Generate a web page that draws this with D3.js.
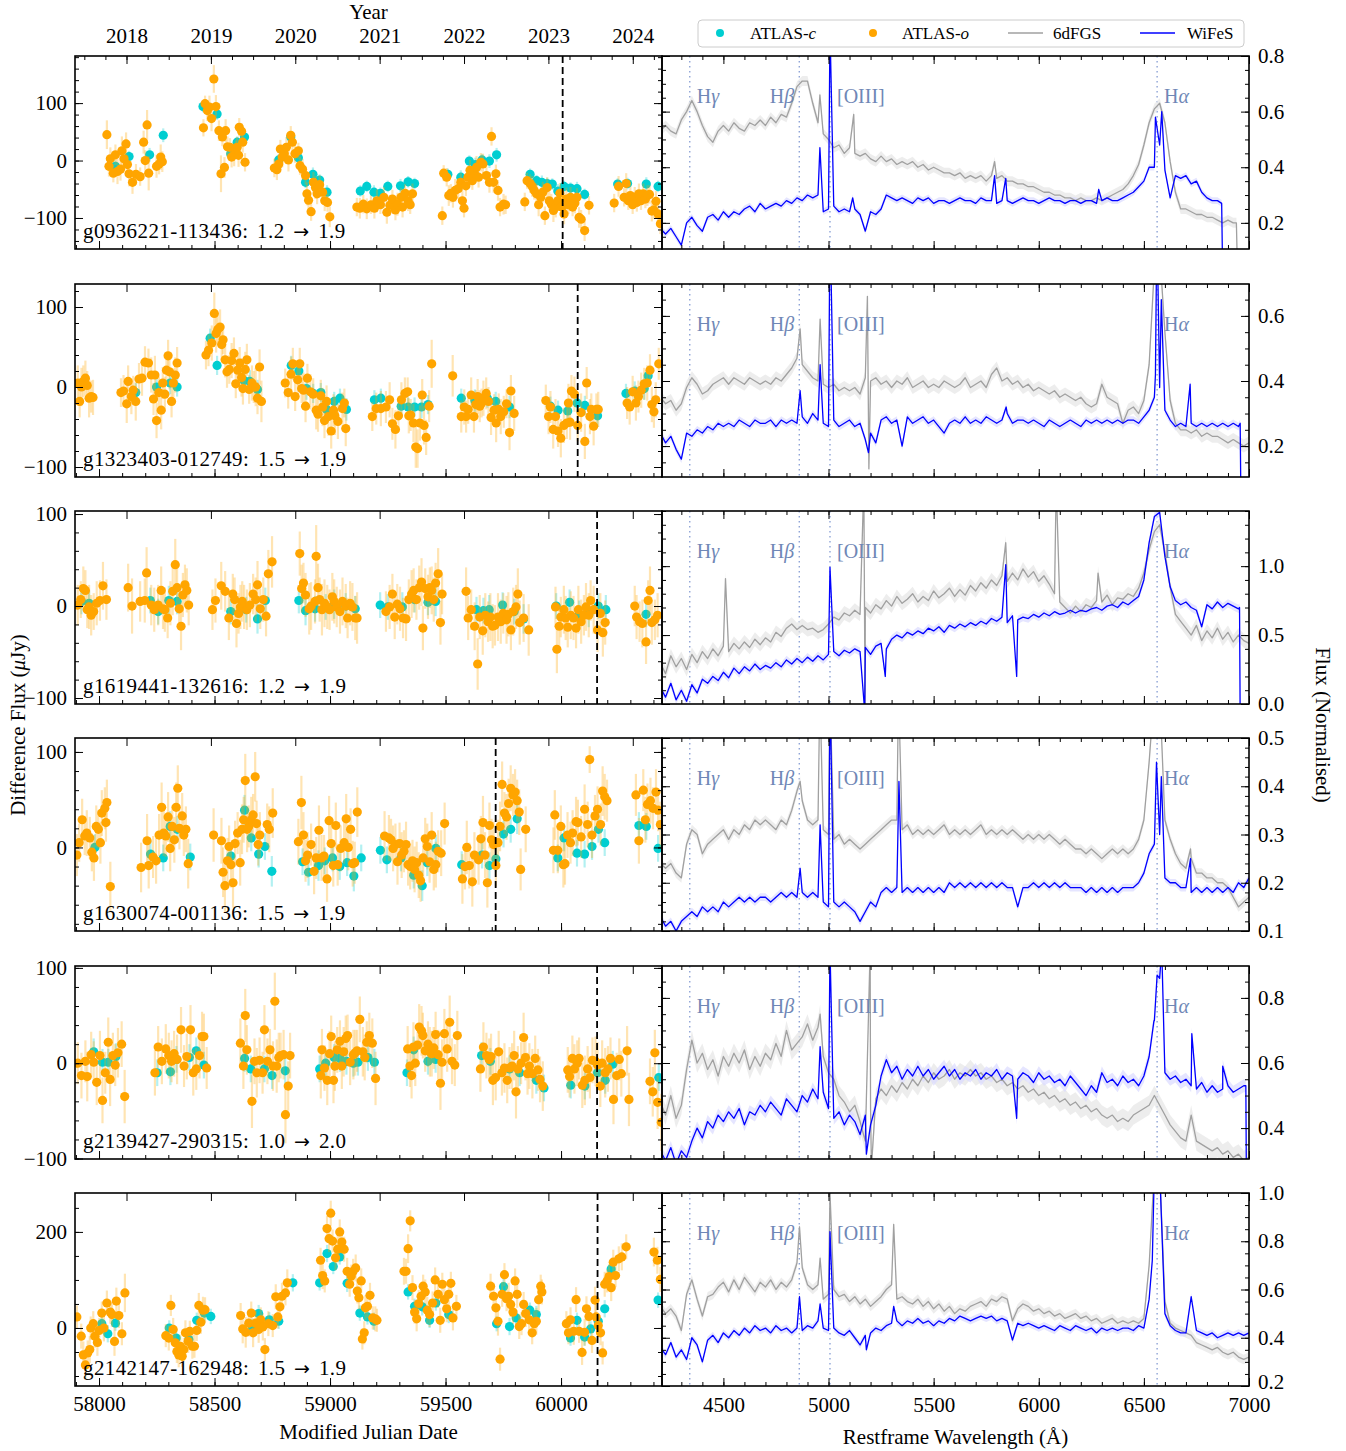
<!DOCTYPE html>
<html>
<head>
<meta charset="utf-8">
<script src="https://cdn.jsdelivr.net/npm/d3@7"></script>
<style>
  body { margin: 0; background: #fff; }
</style>
</head>
<body>
<svg id="chart" width="1346" height="1451"></svg>
<script>
// ---- object names and classification change ----
const objectNames = ['g0936221-113436', 'g1323403-012749', 'g1619441-132616', 'g1630074-001136', 'g2139427-290315', 'g2142147-162948'];
const typeFrom = ['1.2', '1.5', '1.2', '1.5', '1.0', '1.5'];
const typeTo = ['1.9', '1.9', '1.9', '1.9', '2.0', '1.9'];
const spectrumMJD = [60007, 60072, 60156, 59717, 60156, 60158];

// axis limits / tick steps
const fluxLimits = [[-154, 182], [-112.5, 128.75], [-106.5, 103.3], [-87.5, 114.6], [-100.5, 102], [-120.8, 281]];
const fluxMajor = [100, 100, 100, 100, 100, 200];
const fluxMinor = [20, 20, 20, 20, 20, 50];
const normLimits = [[0.106, 0.8], [0.105, 0.698], [0, 1.4], [0.1, 0.5], [0.305, 0.898], [0.2, 1.0]];
const normMajor = [0.2, 0.2, 0.5, 0.1, 0.2, 0.2];
const normMinor = [0.05, 0.05, 0.1, 0.02, 0.05, 0.05];
const yearLabels = [2018, 2019, 2020, 2021, 2022, 2023, 2024];
const emLines = [4340, 4861, 5007, 6563];
const emLabels = [['H', 'γ'], ['H', 'β'], ['[OIII]', ''], ['H', 'α']];

// ---- ATLAS light curves: [MJD, flux (uJy), error] ----
const lcO1 = [[58034,45,25],[58043,-10,18],[58049,3,20],[58062,-22,16],[58071,10,18],[58080,-19,22],[58093,-15,20],[58099,17,25],[58108,3,18],[58117,29,20],[58123,-7,16],[58130,-23,22],[58145,-38,20],[58160,-24,18],[58178,-28,16],[58193,32,20],[58200,0,18],[58208,62,26],[58215,-22,30],[58249,-10,20],[58260,-6,18],[58267,6,22],[58274,-2,18],
[58452,57,15],[58459,99,14],[58469,87,18],[58478,93,20],[58487,73,22],[58497,142,24],[58506,94,20],[58519,52,18],[58528,-23,32],[58534,41,16],[58543,-12,18],[58548,52,20],[58556,24,18],[58567,23,16],[58574,6,18],[58585,10,20],[58593,19,16],[58598,23,18],[58604,9,20],[58607,58,16],[58617,51,14],[58622,32,18],[58632,-3,16],
[58759,-13,16],[58770,-16,18],[58778,-6,14],[58785,20,16],[58793,6,18],[58802,12,16],[58811,23,18],[58820,1,20],[58830,44,16],[58837,32,18],[58848,12,16],[58863,17,14],[58870,-9,16],[58881,-15,18],[58894,-26,16],[58900,-58,20],[58907,-69,18],[58918,-89,16],[58928,-38,18],[58937,-47,20],[58944,-58,18],[58955,-42,16],[58968,-55,20],[58977,-70,18],[58989,-73,16],[58999,-98,18],
[59116,-81,16],[59129,-83,18],[59144,-76,16],[59159,-84,18],[59177,-77,16],[59192,-83,18],[59203,-70,20],[59218,-77,16],[59233,-64,18],[59246,-90,20],[59259,-78,18],[59270,-67,16],[59283,-86,18],[59292,-76,20],[59307,-64,16],[59314,-81,18],[59325,-57,16],[59338,-70,18],[59347,-77,16],[59357,-58,18],
[59486,-96,16],[59492,-22,14],[59505,-29,16],[59514,-61,18],[59523,-57,16],[59532,-64,18],[59542,-52,20],[59555,-49,18],[59566,-38,16],[59573,-70,18],[59580,-83,16],[59588,-44,18],[59597,-29,20],[59606,-17,18],[59616,-35,16],[59625,-22,18],[59634,-12,20],[59643,-29,18],[59653,-3,16],[59662,-6,18],[59677,-26,16],[59690,-38,18],[59699,42,16],[59708,-38,18],[59718,-23,16],[59727,-52,18],[59736,-81,16],[59751,-76,18],[59760,-77,16],
[59843,-72,16],[59853,-35,14],[59866,-40,16],[59875,-45,18],[59884,-52,16],[59894,-58,18],[59903,-77,20],[59912,-64,16],[59921,-55,18],[59930,-96,16],[59940,-47,18],[59949,-70,16],[59958,-76,18],[59967,-87,20],[59977,-81,18],[59986,-70,16],[59995,-57,18],[60004,-81,16],[60013,-93,18],[60023,-67,20],[60032,-77,16],[60041,-64,18],[60050,-81,16],[60060,-74,18],[60069,-64,16],[60078,-99,18],[60087,-102,16],[60102,-122,18],[60121,-78,16],
[60230,-74,16],[60249,-45,18],[60273,-64,16],[60282,-40,18],[60291,-70,16],[60300,-61,18],[60310,-77,16],[60319,-64,18],[60328,-73,16],[60337,-58,18],[60346,-70,16],[60356,-58,18],[60365,-67,16],[60374,-61,18],[60383,-59,16],[60393,-88,18],[60402,-86,16],[60411,-71,18],[60420,-93,16],[60430,-110,18]];
const lcC1 = [[58071,-10,10],[58130,7,10],[58219,10,12],[58278,44,12],[58450,94,10],[58511,81,10],[58570,12,12],[58598,32,10],[58630,41,12],[58778,1,10],[58830,41,10],[58863,5,12],[58894,-38,10],[58926,-24,12],[58955,-34,10],[58987,-55,12],[59131,-53,10],[59159,-45,10],[59190,-55,12],[59218,-57,10],[59250,-45,10],[59305,-44,12],[59338,-37,10],[59366,-40,10],[59510,-24,10],[59566,-29,12],[59603,-1,10],[59629,-7,12],[59658,1,10],[59690,-1,12],[59721,10,12],[59866,-24,10],[59894,-35,10],[59917,-38,12],[59940,-40,10],[59962,-41,10],[59986,-53,12],[60013,-45,10],[60041,-48,10],[60069,-49,12],[60102,-59,10],[60245,-41,10],[60288,-40,10],[60369,-41,12],[60420,-45,10]];

const lcO2 = [[57908,5,22],[57916,-18,20],[57924,0,24],[57932,7,20],[57941,11,22],[57949,2,18],[57957,-14,24],[57966,-12,20],[57974,-13,22],
[58095,-7,18],[58106,-5,20],[58120,-21,24],[58126,7,20],[58140,-12,22],[58148,-4,18],[58159,-18,24],[58173,10,20],[58186,11,22],[58199,31,20],[58214,30,18],[58226,15,22],[58236,-15,20],[58242,15,24],[58249,-42,22],[58259,-7,20],[58269,-29,24],[58276,5,20],[58285,-9,22],[58292,21,18],[58299,39,20],[58305,19,22],[58314,-18,20],[58322,5,18],[58330,15,22],[58338,30,20],
[58463,40,18],[58474,46,20],[58488,55,22],[58499,92,26],[58507,67,24],[58514,72,20],[58524,75,22],[58531,53,20],[58537,59,18],[58546,34,22],[58554,19,20],[58564,22,18],[58574,33,22],[58584,42,20],[58592,4,18],[58600,21,22],[58609,30,20],[58617,12,24],[58623,-2,20],[58633,22,22],[58640,34,20],[58650,-3,18],[58662,5,22],[58670,0,20],[58678,0,24],[58686,-14,20],[58695,25,22],[58703,-18,26],
[58806,5,18],[58819,-7,20],[58831,16,22],[58839,29,20],[58849,-12,18],[58860,9,22],[58869,29,20],[58877,-2,18],[58885,-4,22],[58894,-24,20],[58902,11,18],[58915,-6,22],[58927,-9,20],[58940,-29,24],[58948,-34,22],[58960,-11,20],[58968,-25,24],[58976,-42,22],[58985,-18,20],[58993,-37,24],[59005,-55,22],[59015,-29,20],[59021,-36,24],[59034,-43,22],[59054,-27,20],[59062,-20,18],[59068,-52,22],
[59183,-37,18],[59200,-27,20],[59220,-27,22],[59242,-25,20],[59258,-16,22],[59270,-46,20],[59283,-53,24],[59296,-36,20],[59309,-16,22],[59324,-8,20],[59336,-6,18],[59341,-36,22],[59349,-35,20],[59361,-45,24],[59371,-75,26],[59379,-77,24],[59389,-45,22],[59399,-10,20],[59407,-48,24],[59416,-63,22],[59429,-24,20],[59440,29,30],
[59531,14,26],[59568,-37,20],[59581,-25,22],[59589,-37,20],[59598,-28,18],[59611,-10,22],[59623,-37,20],[59631,-22,18],[59639,-12,22],[59648,-24,20],[59656,-20,18],[59664,-14,22],[59676,-8,20],[59686,-18,18],[59697,-38,22],[59710,-29,20],[59719,-45,24],[59730,-28,20],[59739,-37,22],[59752,-31,20],[59764,-21,18],[59777,-57,22],[59783,-5,20],[59797,-33,22],
[59934,-17,20],[59946,-37,22],[59954,-25,20],[59966,-53,24],[59976,-37,22],[59987,-55,20],[59999,-64,24],[60012,-48,22],[60025,-45,20],[60032,-20,24],[60039,-44,22],[60045,-5,20],[60058,-9,22],[60072,-48,20],[60087,-32,24],[60103,-68,22],[60111,5,20],[60125,-37,22],[60131,-28,20],[60141,-49,24],[60153,-28,20],[60161,-28,22],
[60286,-20,20],[60297,-25,22],[60310,-6,20],[60324,-20,22],[60335,-12,20],[60347,-4,22],[60360,4,20],[60373,5,22],[60385,21,20],[60393,-22,22],[60402,-31,20],[60410,-16,22],[60423,29,20]];
const lcC2 = [[58159,-7,12],[58249,0,12],[58308,5,14],[58338,0,12],[58481,61,12],[58511,27,12],[58628,8,12],[58653,7,14],[58686,-3,12],[58832,27,12],[58865,20,12],[58898,-2,14],[58927,-8,12],[58960,-7,12],[58985,-28,14],[59018,-18,12],[59043,-14,12],[59071,-28,14],[59192,-16,12],[59220,-14,12],[59308,-24,14],[59338,-25,12],[59366,-25,12],[59396,-25,14],[59424,-22,12],[59568,-14,12],[59627,-17,14],[59681,-14,12],[59717,-18,12],[59777,-25,14],[59954,-24,12],[59987,-29,12],[60029,-30,14],[60070,-20,12],[60103,-23,12],[60158,-36,14],[60281,-8,12],[60319,-5,12],[60360,-2,14],[60377,14,12]];

const lcO3 = [[57908,1,22],[57921,7,20],[57932,19,24],[57941,17,22],[57949,-4,20],[57957,-1,24],[57966,-10,22],[57977,-6,20],[57990,3,24],[58004,6,22],[58017,22,26],[58032,7,22],
[58126,20,26],[58143,0,30],[58178,5,22],[58198,6,24],[58206,36,28],[58226,1,22],[58239,-4,24],[58256,1,22],[58269,17,26],[58277,-3,22],[58285,-4,24],[58297,-13,22],[58309,3,24],[58319,16,26],[58330,45,28],[58338,20,24],[58347,-3,22],[58355,-22,26],[58363,12,24],[58372,23,22],[58380,17,24],[58388,1,22],
[58491,-4,22],[58504,6,24],[58529,22,26],[58546,16,22],[58562,-13,24],[58579,13,22],[58587,7,24],[58595,-19,26],[58604,-8,22],[58612,-1,24],[58620,5,22],[58628,-1,24],[58640,-4,22],[58653,1,24],[58667,13,22],[58678,7,24],[58686,23,26],[58698,-3,22],[58711,7,24],[58723,-11,22],[58733,35,26],[58749,48,28],
[58869,57,24],[58877,19,26],[58885,25,22],[58894,12,24],[58910,-3,28],[58918,0,26],[58935,5,24],[58940,54,34],[58948,20,26],[58955,7,24],[58965,-4,28],[58976,3,26],[58988,-1,24],[58998,-4,22],[59010,10,26],[59018,5,24],[59029,-1,22],[59043,-6,24],[59054,5,26],[59068,0,24],[59076,-13,22],[59087,3,24],[59097,-1,26],[59109,-13,24],[59117,-13,28],
[59242,-6,22],[59258,-1,24],[59270,13,22],[59280,-12,24],[59291,2,22],[59303,-3,24],[59316,-13,22],[59329,-14,24],[59341,7,22],[59353,13,26],[59362,17,24],[59374,7,22],[59386,20,24],[59396,26,26],[59402,-24,24],[59412,19,22],[59424,10,24],[59432,20,22],[59440,17,26],[59449,7,24],[59457,25,22],[59468,35,28],[59478,-18,24],[59485,13,22],
[59589,16,26],[59598,-13,24],[59611,-4,22],[59626,-22,26],[59639,-63,28],[59648,-12,24],[59661,-27,26],[59672,-10,24],[59684,-17,22],[59694,-12,26],[59704,-22,24],[59714,-21,22],[59727,-12,26],[59739,-17,24],[59750,-8,22],[59764,-15,26],[59772,-9,24],[59783,-26,22],[59793,-6,26],[59805,-1,24],[59813,13,28],[59821,-18,24],[59838,-13,26],[59860,-26,28],
[59976,-1,22],[59982,-47,26],[59992,-22,24],[59999,-12,22],[60012,-4,26],[60020,-13,24],[60029,-23,22],[60042,-10,26],[60054,-13,24],[60065,-24,22],[60075,-4,26],[60087,-17,24],[60099,-10,22],[60108,-1,26],[60120,-10,24],[60128,6,22],[60141,-4,26],[60158,-26,24],[60170,-8,22],[60181,-29,26],[60191,-18,24],
[60319,0,22],[60327,-12,24],[60340,-17,22],[60352,-19,26],[60368,-39,24],[60377,6,22],[60385,17,26],[60393,-18,24],[60406,-15,22],[60418,-10,24]];
const lcC3 = [[57924,5,14],[57957,3,14],[58222,6,14],[58256,-6,14],[58302,6,16],[58338,5,14],[58570,-6,14],[58637,-4,14],[58686,-14,16],[58720,6,14],[58865,6,14],[58894,-5,16],[58935,-3,14],[58981,-1,14],[59018,2,16],[59068,0,14],[59109,-3,14],[59217,1,14],[59250,-1,14],[59313,-1,16],[59366,7,14],[59424,4,14],[59457,5,16],[59634,-4,14],[59664,-5,14],[59689,-4,16],[59747,1,14],[59797,-6,14],[59838,-14,16],[59979,0,14],[60037,4,14],[60078,-10,16],[60120,-9,14],[60161,0,14],[60194,-4,16],[60368,-9,14]];

const lcO4 = [[57904,-8,22],[57914,5,20],[57927,29,22],[57938,12,20],[57947,15,24],[57960,10,22],[57969,-5,20],[57978,-11,24],[57988,22,22],[57997,19,20],[58006,5,22],[58012,36,24],[58025,41,22],[58030,26,20],[58034,47,24],[58049,-41,26],
[58182,-21,26],[58208,7,28],[58215,-19,24],[58234,-10,22],[58247,-14,24],[58260,13,22],[58271,42,26],[58280,15,24],[58289,12,22],[58299,32,26],[58308,-1,24],[58317,22,22],[58326,8,24],[58334,42,26],[58341,62,24],[58348,20,22],[58360,33,24],[58367,13,22],[58376,19,24],[58386,-17,26],
[58496,13,28],[58530,7,24],[58537,-26,26],[58545,-40,28],[58556,-14,24],[58563,1,22],[58571,-18,24],[58580,-37,26],[58589,4,24],[58600,15,22],[58611,-16,24],[58619,19,26],[58626,29,24],[58633,70,28],[58641,19,24],[58648,22,22],[58659,29,24],[58667,34,22],[58676,74,26],[58682,25,24],[58689,3,22],[58696,13,24],[58728,24,22],[58737,19,24],[58752,36,26],
[58863,6,24],[58876,47,28],[58885,13,24],[58894,-14,22],[58903,-8,24],[58918,3,22],[58931,-25,24],[58940,-11,22],[58952,18,26],[58963,-11,24],[58974,-9,22],[58987,-33,24],[58996,28,26],[59005,4,24],[59014,-19,22],[59025,23,24],[59033,-18,22],[59046,-1,24],[59061,5,22],[59070,30,26],[59079,0,24],[59089,19,22],[59098,-17,24],[59107,-16,22],[59118,37,26],
[59236,12,26],[59255,10,24],[59264,8,22],[59273,-1,24],[59283,3,22],[59292,-15,24],[59301,4,22],[59310,-8,24],[59320,-4,22],[59329,3,24],[59338,-18,22],[59347,-20,24],[59357,-14,22],[59366,-23,24],[59375,-16,22],[59384,-29,24],[59392,-35,22],[59403,-11,24],[59412,9,22],[59421,1,24],[59431,-15,22],[59440,13,24],[59449,-23,22],[59458,-18,24],[59468,-4,22],[59481,-6,24],[59496,25,22],
[59573,-33,26],[59584,-20,24],[59592,0,28],[59603,-19,24],[59616,-36,26],[59625,-8,24],[59643,-13,26],[59653,9,24],[59662,26,28],[59671,-8,24],[59681,-37,26],[59690,23,24],[59699,8,22],[59708,3,24],[59718,-19,22],[59727,5,24],[59736,22,26],[59745,66,24],[59755,36,22],[59764,32,24],[59773,46,26],[59782,62,24],[59792,55,22],[59801,58,24],[59810,49,22],[59819,37,24],[59825,-23,22],[59847,19,24],
[59967,-3,24],[59973,34,26],[59986,-3,24],[59999,22,22],[60010,-18,24],[60017,-17,22],[60028,13,24],[60041,5,22],[60050,15,24],[60065,27,26],[60073,26,24],[60087,11,22],[60102,40,26],[60115,24,24],[60124,92,14],[60134,13,24],[60147,33,22],[60158,40,24],[60171,24,22],[60180,59,26],[60189,53,24],[60199,49,22],
[60324,55,22],[60337,7,24],[60356,60,22],[60365,29,24],[60374,45,22],[60387,49,24],[60398,41,22],[60411,58,24],[60420,39,22],[60430,24,24]];
const lcC4 = [[57982,0,14],[58223,-7,14],[58278,-11,14],[58308,22,16],[58339,19,14],[58395,-10,14],[58571,-9,14],[58630,39,16],[58659,10,14],[58691,-7,14],[58718,1,14],[58748,-25,16],[58881,-15,14],[58907,-26,14],[58950,-19,16],[58977,-14,14],[59011,-11,14],[59042,-20,14],[59074,-16,14],[59103,-30,16],[59135,-11,14],[59218,-3,14],[59246,-13,14],[59307,-11,14],[59362,-29,14],[59399,-40,16],[59421,-16,14],[59458,-1,14],[59570,-18,14],[59658,-8,14],[59690,-19,14],[59718,-12,14],[59751,14,14],[59782,19,14],[59810,30,16],[59986,-11,14],[60013,10,14],[60069,-6,14],[60102,-7,14],[60134,1,14],[60162,19,14],[60189,5,14],[60337,23,14],[60369,22,14],[60420,-1,14]];

const lcO5 = [[57908,0,22],[57924,-13,24],[57941,2,22],[57949,-14,26],[57966,9,24],[57977,1,22],[57990,-20,24],[58004,8,26],[58015,-39,24],[58027,-10,22],[58040,22,26],[58048,-17,28],[58060,8,24],[58070,-2,22],[58082,11,26],[58098,20,24],[58111,-35,28],
[58242,-10,24],[58256,17,22],[58272,2,24],[58289,15,26],[58302,8,24],[58314,2,22],[58325,10,24],[58338,4,26],[58355,35,24],[58368,-3,22],[58380,7,24],[58396,35,26],[58408,-10,24],[58421,-6,22],[58435,8,24],[58446,28,26],[58454,28,24],[58466,-5,22],
[58612,21,26],[58625,-3,24],[58633,50,28],[58640,14,26],[58662,-40,28],[58673,2,24],[58683,-10,26],[58695,3,24],[58708,-10,22],[58716,35,26],[58729,2,24],[58740,14,22],[58753,-3,26],[58761,65,30],[58769,-3,28],[58778,6,26],[58786,8,24],[58799,9,26],[58807,-54,30],[58819,-24,26],[58827,8,24],
[58960,-13,24],[58965,14,22],[58976,-5,24],[58988,-18,26],[58998,10,24],[59005,28,22],[59015,-18,24],[59021,-3,26],[59031,14,24],[59043,23,22],[59051,-3,24],[59059,12,26],[59068,26,24],[59076,29,22],[59087,1,24],[59101,9,26],[59109,11,24],[59117,13,22],[59129,46,24],[59142,12,26],[59150,6,24],[59159,22,22],[59170,29,24],[59183,21,26],[59197,-16,28],
[59336,15,24],[59346,-3,22],[59353,-13,24],[59361,17,26],[59369,0,24],[59379,19,22],[59386,38,24],[59396,34,26],[59402,29,24],[59412,13,22],[59424,20,24],[59432,12,26],[59440,10,24],[59449,16,22],[59457,30,24],[59468,9,26],[59478,-21,28],[59485,1,24],[59495,31,26],[59507,15,24],[59518,43,28],[59528,2,24],[59540,-2,22],[59551,29,26],
[59651,-6,24],[59664,17,26],[59677,8,24],[59689,4,22],[59697,7,24],[59705,-18,26],[59717,-15,24],[59730,12,22],[59744,-10,24],[59755,-5,26],[59767,-18,24],[59777,-5,22],[59788,-3,24],[59797,8,26],[59805,-30,28],[59813,-6,24],[59827,0,22],[59838,27,26],[59846,6,24],[59855,-11,22],[59863,-3,24],[59876,-11,26],[59888,5,24],[59900,-7,22],[59909,-17,24],[59921,-24,26],
[60029,-7,24],[60037,-14,22],[60049,5,24],[60058,-6,26],[60070,0,24],[60078,5,22],[60092,-23,24],[60103,-18,26],[60115,-6,24],[60125,-15,22],[60136,3,24],[60149,2,26],[60158,-2,24],[60170,-24,22],[60178,0,24],[60191,-10,26],[60203,-6,24],[60214,5,22],[60227,-38,26],[60241,-13,24],[60252,4,22],[60261,-11,24],[60286,13,26],[60294,-38,28],
[60385,-19,24],[60397,-30,26],[60406,11,24],[60418,-41,28],[60434,-62,30]];
const lcC5 = [[57977,12,14],[58015,1,14],[58040,1,14],[58073,7,14],[58252,-10,14],[58309,-9,14],[58335,4,14],[58391,6,14],[58421,13,14],[58454,-2,14],[58630,5,14],[58657,-6,14],[58716,-6,14],[58749,-13,14],[58806,-8,14],[58955,-6,14],[58981,0,14],[59018,6,14],[59043,5,14],[59071,2,14],[59101,0,14],[59121,1,14],[59164,6,14],[59192,1,14],[59333,-10,14],[59362,14,14],[59424,2,14],[59457,4,14],[59656,8,14],[59694,2,14],[59777,-6,14],[59821,-10,14],[59893,-18,14],[59926,-26,14],[60042,-23,14],[60103,-24,14],[60158,-10,14],[60191,-18,14],[60224,-1,14],[60423,-15,14]];

const lcO6 = [[57904,23,24],[57923,-17,26],[57932,-56,28],[57941,-77,30],[57951,-52,26],[57960,-45,28],[57964,0,24],[57975,9,26],[57982,-17,24],[57993,-30,28],[58001,-5,26],[58012,31,24],[58021,0,28],[58034,52,26],[58049,33,24],[58056,28,26],[58067,-28,30],[58075,56,28],[58086,26,26],[58099,-12,24],[58112,73,40],
[58289,-16,24],[58302,-21,26],[58311,47,22],[58321,-3,24],[58330,-31,26],[58337,-49,24],[58345,-56,26],[58352,-38,24],[58360,-59,22],[58367,-45,24],[58374,-10,26],[58386,-28,24],[58393,-7,22],[58404,-38,26],[58413,-38,24],[58423,-5,22],[58432,47,26],[58441,12,24],[58450,37,28],[58459,38,26],
[58613,26,26],[58622,-2,30],[58635,-9,32],[58648,10,28],[58659,31,24],[58667,-10,30],[58678,10,26],[58691,-3,28],[58700,17,26],[58709,2,28],[58718,-45,24],[58733,9,26],[58752,5,24],[58765,65,26],[58774,23,24],[58783,44,26],[58792,66,28],[58807,73,26],[58815,94,28],
[58959,141,26],[58968,109,28],[58977,98,24],[58987,207,26],[58996,186,28],[59003,239,26],[59011,181,24],[59024,146,26],[59033,164,28],[59042,200,26],[59051,179,24],[59061,164,26],[59074,118,28],[59085,91,26],[59092,108,24],[59100,118,26],[59111,125,28],[59118,77,26],[59125,63,24],[59135,98,26],[59140,-23,22],[59148,-10,24],[59153,42,26],[59162,45,24],[59173,68,26],[59185,21,24],[59196,19,26],[59203,16,24],
[59320,118,28],[59329,118,26],[59338,165,30],[59347,223,22],[59357,84,26],[59366,33,24],[59375,19,26],[59384,51,28],[59394,66,26],[59403,87,24],[59412,75,26],[59421,37,28],[59431,28,26],[59444,52,24],[59455,100,26],[59468,70,28],[59477,16,26],[59486,91,24],[59495,59,26],[59505,40,28],[59514,70,26],[59523,93,24],[59532,21,26],[59547,45,24],
[59695,87,26],[59708,66,28],[59718,42,26],[59727,14,30],[59736,-65,24],[59745,70,26],[59755,111,24],[59764,61,26],[59773,66,28],[59782,49,26],[59792,33,24],[59801,98,26],[59810,70,28],[59819,3,26],[59829,9,24],[59838,49,26],[59847,30,28],[59862,17,26],[59875,-10,24],[59884,9,26],[59893,14,28],[59903,59,26],[59912,87,24],[59917,75,26],
[60023,9,26],[60032,-10,24],[60041,17,26],[60055,-7,28],[60065,59,26],[60078,-7,24],[60091,-51,26],[60102,-9,28],[60110,40,26],[60121,24,24],[60134,-26,26],[60147,58,28],[60152,23,26],[60161,5,24],[60171,-10,26],[60180,-52,24],[60189,91,26],[60199,98,24],[60208,107,26],[60217,84,28],[60226,137,26],[60236,109,24],[60250,144,26],[60263,148,28],[60282,169,26],
[60402,158,30],[60417,141,28],[60430,101,26]];
const lcC6 = [[58012,9,16],[58038,-12,18],[58071,10,16],[58304,0,16],[58334,-21,18],[58389,-24,16],[58423,16,16],[58456,31,18],[58484,24,16],[58663,3,16],[58691,30,18],[58737,17,16],[58778,14,16],[58839,94,18],[58955,94,16],[58987,155,18],[59014,128,16],[59042,148,16],[59074,93,18],[59129,31,16],[59162,23,16],[59190,14,18],[59338,75,16],[59366,45,16],[59399,44,18],[59431,16,16],[59458,52,16],[59514,28,18],[59721,9,16],[59751,86,16],[59777,3,18],[59806,21,16],[59865,37,16],[59893,28,18],[60041,-21,16],[60069,16,16],[60102,-19,18],[60128,-2,16],[60161,14,16],[60189,40,18],[60217,123,16],[60420,58,16]];

// ---- spectra: normalised flux on a 25 A grid starting at 4200 A, plus narrow features [wl, flux] ----
const sixdf1 = [0.53,0.55,0.53,0.52,0.57,0.60,0.64,0.60,0.55,0.51, 0.49,0.53,0.55,0.53,0.56,0.54,0.53,0.56,0.55,0.57, 0.55,0.58,0.56,0.59,0.58,0.63,0.69,0.71,0.71,0.63, 0.56,0.52,0.50,0.47,0.48,0.45,0.47,0.45,0.44,0.45, 0.43,0.42,0.44,0.42,0.43,0.41,0.42,0.41,0.42,0.40, 0.41,0.39,0.40,0.39,0.38,0.38,0.37,0.38,0.36,0.37, 0.36,0.37,0.35,0.37,0.36,0.37,0.35,0.35,0.34,0.34, 0.33,0.33,0.32,0.31,0.31,0.30,0.30,0.29,0.29,0.28, 0.29,0.28,0.28,0.29,0.28,0.29,0.30,0.31,0.32,0.34, 0.37,0.41,0.48,0.56,0.61,0.63,0.56,0.42,0.31,0.25, 0.25,0.24,0.23,0.23,0.22,0.22,0.21,0.20,0.21,0.20];
const sixdfFeat1 = [[4959,0.66],[5120,0.59],[5790,0.42],[6940,0.20],[6946,0.0]];
const wifes1 = [0.18,0.16,0.18,0.15,0.12,0.20,0.22,0.19,0.17,0.22, 0.23,0.21,0.24,0.22,0.24,0.23,0.25,0.26,0.24,0.27, 0.25,0.26,0.27,0.26,0.28,0.27,0.29,0.28,0.30,0.29, 0.30,0.24,0.25,0.26,0.24,0.25,0.24,0.25,0.23,0.17, 0.24,0.23,0.25,0.30,0.29,0.28,0.29,0.28,0.27,0.29, 0.28,0.29,0.27,0.28,0.28,0.27,0.28,0.29,0.28,0.28, 0.27,0.29,0.28,0.28,0.27,0.28,0.28,0.27,0.28,0.29, 0.28,0.28,0.27,0.28,0.29,0.28,0.28,0.27,0.28,0.28, 0.27,0.28,0.28,0.27,0.28,0.29,0.28,0.28,0.29,0.30, 0.31,0.33,0.35,0.40,0.40,0.48,0.39,0.29,0.37,0.36, 0.37,0.34,0.35,0.31,0.29,0.28,0.28];
const wifesFeat1 = [[4959,0.47],[5007,0.9],[5115,0.29],[5790,0.37],[5843,0.36],[6285,0.32],[6555,0.58],[6585,0.60],[6870,0.27],[6875,0.0]];

const sixdf2 = [0.35,0.33,0.34,0.31,0.33,0.38,0.41,0.39,0.36,0.37, 0.39,0.40,0.41,0.39,0.41,0.40,0.39,0.41,0.40,0.39, 0.40,0.39,0.41,0.40,0.42,0.44,0.47,0.45,0.43,0.41, 0.40,0.39,0.38,0.39,0.37,0.38,0.37,0.38,0.36,0.41, 0.40,0.41,0.39,0.40,0.38,0.40,0.39,0.41,0.38,0.39, 0.40,0.38,0.39,0.38,0.40,0.39,0.38,0.39,0.41,0.38, 0.39,0.40,0.38,0.42,0.44,0.40,0.41,0.39,0.40,0.38, 0.39,0.37,0.38,0.37,0.36,0.37,0.35,0.36,0.35,0.34, 0.35,0.33,0.32,0.33,0.39,0.35,0.34,0.33,0.27,0.31, 0.32,0.30,0.34,0.45,0.75,0.80,0.55,0.34,0.27,0.25, 0.25,0.24,0.25,0.23,0.24,0.23,0.23,0.22,0.21,0.22, 0.21,0.20,0.21];
const sixdfFeat2 = [[4865,0.56],[4960,0.59],[5185,0.66],[5192,0.13]];
const wifes2 = [0.24,0.21,0.23,0.19,0.16,0.24,0.23,0.25,0.24,0.26, 0.25,0.27,0.26,0.27,0.26,0.28,0.27,0.26,0.28,0.27, 0.27,0.28,0.26,0.28,0.27,0.28,0.27,0.29,0.27,0.30, 0.28,0.27,0.26,0.28,0.26,0.27,0.28,0.26,0.27,0.22, 0.24,0.21,0.28,0.29,0.27,0.28,0.20,0.29,0.27,0.28, 0.29,0.27,0.28,0.26,0.24,0.27,0.28,0.27,0.29,0.27, 0.28,0.27,0.29,0.28,0.27,0.28,0.30,0.27,0.28,0.28, 0.27,0.28,0.27,0.26,0.28,0.27,0.26,0.27,0.28,0.27, 0.26,0.28,0.27,0.28,0.27,0.28,0.27,0.28,0.27,0.28, 0.28,0.27,0.29,0.31,0.35,0.38,0.31,0.28,0.26,0.27, 0.26,0.27,0.26,0.27,0.26,0.27,0.26,0.27,0.26,0.27, 0.26];
const wifesFeat2 = [[4865,0.37],[4960,0.45],[5007,0.9],[5190,0.18],[5845,0.32],[6555,0.42],[6562,0.9],[6583,0.65],[6720,0.39],[6958,0.27],[6962,0.0]];

const sixdf3 = [0.30,0.22,0.35,0.27,0.33,0.25,0.36,0.30,0.38,0.33, 0.40,0.35,0.42,0.38,0.44,0.40,0.45,0.41,0.47,0.43, 0.48,0.45,0.52,0.49,0.55,0.58,0.54,0.57,0.54,0.55, 0.52,0.54,0.58,0.63,0.61,0.66,0.64,0.68,0.65,0.70, 0.66,0.72,0.69,0.75,0.71,0.78,0.73,0.76,0.80,0.74, 0.78,0.75,0.82,0.77,0.80,0.84,0.78,0.83,0.79,0.86, 0.82,0.88,0.84,0.90,0.86,0.93,0.89,0.95,0.90,0.98, 0.92,0.96,0.89,0.93,0.87,0.80,0.74,0.70,0.66,0.71, 0.67,0.72,0.70,0.75,0.74,0.79,0.72,0.77,0.76,0.80, 0.78,0.84,0.95,1.12,1.25,1.30,1.10,0.85,0.65,0.60, 0.55,0.50,0.57,0.46,0.53,0.48,0.55,0.47,0.52,0.45, 0.50,0.46,0.44];
const sixdfFeat3 = [[4510,0.91],[5168,1.6],[5174,-0.1],[5843,1.17],[6083,1.6],[6282,0.95]];
const wifes3 = [0.12,0.05,0.15,0.03,0.10,0.02,0.14,0.08,0.18,0.15, 0.20,0.17,0.23,0.19,0.26,0.22,0.27,0.24,0.29,0.25, 0.28,0.26,0.30,0.27,0.32,0.29,0.33,0.30,0.34,0.31, 0.35,0.32,0.36,0.38,0.35,0.39,0.37,0.40,0.38,0.41, 0.36,0.42,0.44,0.40,0.47,0.50,0.48,0.52,0.50,0.53, 0.51,0.55,0.53,0.56,0.52,0.57,0.55,0.58,0.56,0.59, 0.57,0.60,0.58,0.62,0.60,0.63,0.59,0.64,0.61,0.63, 0.62,0.65,0.63,0.66,0.64,0.67,0.65,0.66,0.68,0.66, 0.68,0.67,0.69,0.70,0.68,0.71,0.72,0.70,0.74,0.72, 0.75,0.78,0.90,1.17,1.36,1.39,1.07,0.85,0.75,0.72, 0.74,0.70,0.68,0.56,0.72,0.69,0.74,0.70,0.73,0.71, 0.69];
const wifesFeat3 = [[5007,0.99],[5172,-0.05],[5270,0.20],[5843,1.01],[5895,0.2],[6955,0.70],[6958,-0.1]];

const sixdf4 = [0.24,0.23,0.24,0.22,0.21,0.28,0.31,0.30,0.26,0.28, 0.29,0.30,0.31,0.29,0.31,0.30,0.32,0.31,0.33,0.32, 0.33,0.32,0.31,0.33,0.32,0.35,0.39,0.37,0.33,0.32, 0.33,0.31,0.30,0.29,0.30,0.28,0.29,0.28,0.27,0.28, 0.29,0.30,0.31,0.32,0.33,0.33,0.31,0.32,0.30,0.31, 0.30,0.31,0.30,0.31,0.32,0.30,0.31,0.30,0.31,0.30, 0.31,0.32,0.30,0.31,0.30,0.31,0.30,0.31,0.30,0.29, 0.30,0.29,0.30,0.29,0.30,0.29,0.28,0.29,0.28,0.27, 0.27,0.26,0.27,0.26,0.25,0.26,0.27,0.26,0.27,0.26, 0.27,0.29,0.33,0.45,0.60,0.60,0.33,0.29,0.26,0.24, 0.23,0.25,0.22,0.22,0.21,0.21,0.20,0.20,0.19,0.17, 0.15,0.16,0.17];
const sixdfFeat4 = [[4865,0.41],[4959,0.6],[5007,0.6],[5333,0.6],[6722,0.27]];
const wifes4 = [0.13,0.11,0.12,0.10,0.12,0.13,0.14,0.13,0.15,0.14, 0.15,0.14,0.16,0.15,0.16,0.17,0.16,0.17,0.16,0.17, 0.17,0.16,0.17,0.18,0.17,0.18,0.17,0.18,0.17,0.18, 0.17,0.16,0.15,0.16,0.15,0.16,0.15,0.14,0.12,0.14, 0.16,0.15,0.18,0.19,0.18,0.19,0.18,0.19,0.18,0.19, 0.18,0.19,0.18,0.19,0.18,0.20,0.19,0.20,0.19,0.20, 0.19,0.20,0.19,0.20,0.19,0.20,0.19,0.19,0.15,0.19, 0.19,0.20,0.19,0.20,0.19,0.20,0.19,0.20,0.19,0.19, 0.19,0.18,0.19,0.18,0.19,0.18,0.19,0.18,0.19,0.19, 0.19,0.20,0.22,0.26,0.28,0.30,0.21,0.20,0.20,0.19, 0.19,0.18,0.19,0.18,0.19,0.18,0.19,0.18,0.19,0.18, 0.20,0.19,0.21];
const wifesFeat4 = [[4865,0.23],[4960,0.32],[5007,0.6],[5335,0.41],[6560,0.45],[6583,0.42],[6722,0.25]];

const sixdf5 = [0.48,0.44,0.50,0.43,0.47,0.58,0.67,0.60,0.63,0.58, 0.61,0.56,0.62,0.59,0.63,0.60,0.64,0.58,0.62,0.59, 0.63,0.61,0.66,0.62,0.70,0.64,0.66,0.68,0.72,0.67, 0.71,0.62,0.57,0.55,0.50,0.48,0.45,0.47,0.42,0.36, 0.46,0.49,0.52,0.50,0.53,0.51,0.54,0.52,0.55,0.53, 0.56,0.54,0.57,0.55,0.56,0.58,0.55,0.57,0.56,0.58, 0.56,0.57,0.55,0.56,0.54,0.55,0.53,0.54,0.52,0.53, 0.51,0.52,0.50,0.51,0.49,0.50,0.48,0.49,0.47,0.48, 0.46,0.47,0.45,0.46,0.44,0.43,0.44,0.42,0.43,0.42, 0.44,0.45,0.46,0.47,0.50,0.47,0.44,0.41,0.39,0.37, 0.36,0.44,0.36,0.35,0.34,0.33,0.34,0.32,0.33,0.31, 0.32,0.30,0.31];
const sixdfFeat5 = [[4960,0.75],[5198,0.95],[5204,0.28]];
const wifes5 = [0.33,0.30,0.34,0.29,0.33,0.31,0.36,0.40,0.37,0.42, 0.40,0.44,0.42,0.45,0.43,0.46,0.41,0.45,0.44,0.47, 0.45,0.48,0.46,0.44,0.49,0.47,0.45,0.50,0.48,0.52, 0.49,0.51,0.46,0.43,0.45,0.41,0.44,0.42,0.38,0.44, 0.41,0.47,0.56,0.61,0.57,0.59,0.55,0.58,0.56,0.59, 0.56,0.58,0.55,0.57,0.59,0.56,0.58,0.55,0.57,0.56, 0.58,0.55,0.57,0.56,0.58,0.55,0.57,0.56,0.55,0.57, 0.56,0.54,0.57,0.55,0.56,0.54,0.55,0.53,0.56,0.54, 0.52,0.50,0.53,0.51,0.57,0.54,0.55,0.53,0.56,0.54, 0.55,0.53,0.56,0.62,0.73,0.86,0.57,0.55,0.56,0.54, 0.55,0.53,0.52,0.54,0.51,0.53,0.51,0.52,0.53,0.51, 0.52,0.53];
const wifesFeat5 = [[4960,0.65],[5007,0.95],[5180,0.32],[5895,0.43],[6548,0.73],[6563,0.87],[6585,0.95],[6728,0.69],[6875,0.59],[6985,0.53],[6988,0.2]];

const sixdf6 = [0.53,0.50,0.52,0.49,0.43,0.58,0.64,0.56,0.49,0.57, 0.58,0.61,0.63,0.59,0.64,0.60,0.65,0.62,0.59,0.63, 0.61,0.64,0.60,0.63,0.61,0.64,0.71,0.69,0.62,0.60, 0.62,0.56,0.58,0.60,0.57,0.58,0.55,0.57,0.54,0.56, 0.53,0.55,0.57,0.60,0.62,0.56,0.57,0.55,0.54,0.56, 0.53,0.55,0.52,0.54,0.51,0.53,0.50,0.52,0.51,0.53, 0.54,0.55,0.53,0.56,0.55,0.57,0.56,0.47,0.52,0.54, 0.53,0.51,0.52,0.50,0.51,0.49,0.50,0.48,0.49,0.50, 0.48,0.49,0.47,0.48,0.46,0.47,0.48,0.46,0.47,0.46, 0.47,0.46,0.48,0.70,1.10,1.10,0.55,0.46,0.44,0.43, 0.42,0.41,0.38,0.37,0.36,0.35,0.36,0.34,0.33,0.34, 0.32,0.31,0.32];
const sixdfFeat6 = [[4862,0.86],[4960,0.73],[5007,1.0],[5310,0.87]];
const wifes6 = [0.36,0.33,0.38,0.32,0.35,0.31,0.40,0.37,0.30,0.39, 0.41,0.38,0.42,0.40,0.43,0.41,0.44,0.42,0.45,0.43, 0.44,0.42,0.45,0.43,0.44,0.42,0.44,0.43,0.45,0.44, 0.47,0.44,0.43,0.44,0.42,0.41,0.43,0.40,0.37,0.41, 0.42,0.44,0.43,0.45,0.46,0.47,0.45,0.47,0.46,0.48, 0.46,0.47,0.45,0.47,0.46,0.48,0.47,0.49,0.48,0.47, 0.48,0.49,0.48,0.49,0.47,0.48,0.47,0.39,0.46,0.45, 0.46,0.45,0.44,0.45,0.44,0.43,0.45,0.44,0.43,0.45, 0.44,0.43,0.44,0.42,0.44,0.43,0.44,0.43,0.44,0.44, 0.43,0.45,0.44,0.56,1.10,1.10,0.50,0.45,0.43,0.42, 0.42,0.57,0.43,0.42,0.41,0.42,0.40,0.41,0.42,0.41, 0.42,0.41,0.42];
const wifesFeat6 = [[4862,0.57],[4960,0.54],[5007,0.84],[5180,0.35],[5310,0.53],[6540,0.72]];

const sixdfErr = [0.018, 0.02, 0.05, 0.01, 0.03, 0.02];
const wifesErr = [0.012, 0.012, 0.03, 0.008, 0.02, 0.015];

// ---- collect per-row ----
const lcOrange = [lcO1, lcO2, lcO3, lcO4, lcO5, lcO6];
const lcCyan = [lcC1, lcC2, lcC3, lcC4, lcC5, lcC6];
const sixdfFlux = [sixdf1, sixdf2, sixdf3, sixdf4, sixdf5, sixdf6];
const sixdfFeat = [sixdfFeat1, sixdfFeat2, sixdfFeat3, sixdfFeat4, sixdfFeat5, sixdfFeat6];
const wifesFlux = [wifes1, wifes2, wifes3, wifes4, wifes5, wifes6];
const wifesFeat = [wifesFeat1, wifesFeat2, wifesFeat3, wifesFeat4, wifesFeat5, wifesFeat6];

const waveGrid = d3.range(4200, 7001, 25);

// ---- layout ----
const svg = d3.select('#chart');
const fontFam = '"Liberation Serif", "DejaVu Serif", serif';
const X0 = 75, XM = 662, X1 = 1249;
const tops = [56, 284, 511, 738, 966, 1193];
const H = 193;
const orange = '#FFA500', cyan = '#00CED1';

const xMJD = d3.scaleLinear().domain([57896, 60437]).range([X0, XM]);
const xWave = d3.scaleLinear().domain([4208, 7000]).range([XM, X1]);
const yearToMJD = yr => 58119 + (yr - 2018) * 365.25;

function stepTicks(lo, hi, step) {
  const a = Math.ceil(lo / step - 1e-6), b = Math.floor(hi / step + 1e-6);
  return d3.range(a, b + 1).map(k => +(k * step).toFixed(4));
}
const fmtInt = d => (d < 0 ? '\u2212' : '') + Math.abs(d);
const fmt1 = d3.format('.1f');

function addAxis(maker, scale, values, size, fmt, pad, tx, ty) {
  const ax = svg.append('g').attr('transform', `translate(${tx},${ty})`)
    .call(maker(scale).tickValues(values).tickSizeInner(size).tickSizeOuter(0)
      .tickPadding(pad).tickFormat(fmt || (() => '')));
  ax.select('.domain').remove();
  ax.attr('font-family', fontFam).attr('font-size', 21);
  ax.selectAll('line').attr('stroke', '#000').attr('stroke-width', 1);
  ax.selectAll('text').attr('fill', '#000');
  return ax;
}

const defs = svg.append('defs');

function buildSpectrum(flux, feats) {
  const pts = flux.map((f, j) => [waveGrid[j], f]);
  return pts.concat(feats).sort((a, b) => a[0] - b[0]);
}

const mjdMajor = stepTicks(57896, 60437, 500);
const mjdMinor = stepTicks(57896, 60437, 100);
const yearMajor = yearLabels.map(yearToMJD);
const yearMinor = stepTicks(2017.5, 2024.25, 0.25).map(yearToMJD);
const waveMajor = stepTicks(4208, 7000, 500);
const waveMinor = stepTicks(4208, 7000, 100);

tops.forEach((top, i) => {
  const bottom = top + H;
  const yF = d3.scaleLinear().domain(fluxLimits[i]).range([bottom, top]);
  const yN = d3.scaleLinear().domain(normLimits[i]).range([bottom, top]);

  defs.append('clipPath').attr('id', 'clipL' + i)
    .append('rect').attr('x', X0).attr('y', top).attr('width', XM - X0).attr('height', H);
  defs.append('clipPath').attr('id', 'clipR' + i)
    .append('rect').attr('x', XM).attr('y', top).attr('width', X1 - XM).attr('height', H);

  // ---------- light curve ----------
  const gL = svg.append('g').attr('clip-path', `url(#clipL${i})`);
  [[lcCyan[i], cyan], [lcOrange[i], orange]].forEach(([data, col]) => {
    gL.append('g').selectAll('line').data(data).join('line')
      .attr('x1', d => xMJD(d[0])).attr('x2', d => xMJD(d[0]))
      .attr('y1', d => yF(d[1] - d[2])).attr('y2', d => yF(d[1] + d[2]))
      .attr('stroke', col).attr('stroke-opacity', 0.3).attr('stroke-width', 2.2);
    gL.append('g').selectAll('circle').data(data).join('circle')
      .attr('cx', d => xMJD(d[0])).attr('cy', d => yF(d[1]))
      .attr('r', 4.6).attr('fill', col);
  });
  gL.append('line')
    .attr('x1', xMJD(spectrumMJD[i])).attr('x2', xMJD(spectrumMJD[i]))
    .attr('y1', top).attr('y2', bottom)
    .attr('stroke', '#000').attr('stroke-width', 1.8).attr('stroke-dasharray', '7,4');

  const ann = svg.append('text').attr('x', X0 + 8).attr('y', bottom - 11)
    .attr('font-family', fontFam).attr('font-size', 21).attr('word-spacing', 3).attr('letter-spacing', 0.4);
  ann.append('tspan').text(`${objectNames[i]}: ${typeFrom[i]} `);
  ann.append('tspan').attr('font-family', '"DejaVu Sans", sans-serif').attr('font-size', 19).text('\u2192');
  ann.append('tspan').text(` ${typeTo[i]}`);

  // ---------- spectra ----------
  const gR = svg.append('g').attr('clip-path', `url(#clipR${i})`);
  emLines.forEach(w => {
    gR.append('line').attr('x1', xWave(w)).attr('x2', xWave(w)).attr('y1', top).attr('y2', bottom)
      .attr('stroke', '#8ea3d6').attr('stroke-width', 1.4).attr('stroke-dasharray', '1.5,3.5');
  });
  const series = [
    { pts: buildSpectrum(sixdfFlux[i], sixdfFeat[i]), err: sixdfErr[i], col: '#a0a0a0', band: '#e6e6e6' },
    { pts: buildSpectrum(wifesFlux[i], wifesFeat[i]), err: wifesErr[i], col: '#0000ff', band: '#dadaff' }
  ];
  series.forEach(s => {
    gR.append('path').datum(s.pts)
      .attr('d', d3.area().x(d => xWave(d[0])).y0(d => yN(d[1] - s.err)).y1(d => yN(d[1] + s.err)))
      .attr('fill', s.band).attr('fill-opacity', 0.7);
  });
  series.forEach(s => {
    gR.append('path').datum(s.pts)
      .attr('d', d3.line().x(d => xWave(d[0])).y(d => yN(d[1])))
      .attr('fill', 'none').attr('stroke', s.col).attr('stroke-width', 1.3).attr('stroke-linejoin', 'round');
  });
  emLines.forEach((w, k) => {
    const isBeta = k === 1;
    const t = svg.append('text')
      .attr('x', xWave(w) + (isBeta ? -5 : 7)).attr('y', top + 47)
      .attr('text-anchor', isBeta ? 'end' : 'start')
      .attr('font-family', fontFam).attr('font-size', 20).attr('fill', '#6f87b6');
    t.append('tspan').text(emLabels[k][0]);
    if (emLabels[k][1]) t.append('tspan').attr('font-style', 'italic').text(emLabels[k][1]);
  });

  // ---------- axes ----------
  const last = i === tops.length - 1;
  // light curve x (bottom)
  addAxis(d3.axisBottom, xMJD, mjdMinor, -4, null, 8, 0, bottom);
  addAxis(d3.axisBottom, xMJD, mjdMajor, -8, last ? fmtInt : null, 10, 0, bottom);
  // light curve top: years
  if (i === 0) addAxis(d3.axisTop, xMJD, yearMinor, -4, null, 8, 0, top);
  addAxis(d3.axisTop, xMJD, yearMajor, -8, i === 0 ? (d => String(Math.round(2018 + (d - 58119) / 365.25))) : null, 13, 0, top);
  // light curve y
  const fMaj = stepTicks(fluxLimits[i][0], fluxLimits[i][1], fluxMajor[i]);
  const fMin = stepTicks(fluxLimits[i][0], fluxLimits[i][1], fluxMinor[i]);
  addAxis(d3.axisLeft, yF, fMin, -4, null, 8, X0, 0);
  addAxis(d3.axisLeft, yF, fMaj, -8, fmtInt, 8, X0, 0);
  addAxis(d3.axisRight, yF, fMin, -4, null, 8, XM, 0);
  addAxis(d3.axisRight, yF, fMaj, -8, null, 8, XM, 0);
  // spectra x
  addAxis(d3.axisBottom, xWave, waveMinor, -4, null, 8, 0, bottom);
  addAxis(d3.axisBottom, xWave, waveMajor, -8, last ? fmtInt : null, 11, 0, bottom);
  addAxis(d3.axisTop, xWave, waveMinor, -4, null, 8, 0, top);
  addAxis(d3.axisTop, xWave, waveMajor, -8, null, 8, 0, top);
  // spectra y
  const nMaj = stepTicks(normLimits[i][0], normLimits[i][1], normMajor[i]);
  const nMin = stepTicks(normLimits[i][0], normLimits[i][1], normMinor[i]);
  addAxis(d3.axisLeft, yN, nMin, -4, null, 8, XM, 0);
  addAxis(d3.axisLeft, yN, nMaj, -8, null, 8, XM, 0);
  addAxis(d3.axisRight, yN, nMin, -4, null, 8, X1, 0);
  const ny = addAxis(d3.axisRight, yN, nMaj, -8, fmt1, 9, X1, 0);
  if (last) ny.selectAll('text').filter(d => d === 0.2).attr('dy', '0.1em');

  // frames
  svg.append('rect').attr('x', X0).attr('y', top).attr('width', XM - X0).attr('height', H)
    .attr('fill', 'none').attr('stroke', '#000').attr('stroke-width', 1.6);
  svg.append('rect').attr('x', XM).attr('y', top).attr('width', X1 - XM).attr('height', H)
    .attr('fill', 'none').attr('stroke', '#000').attr('stroke-width', 1.6);
});

// ---- axis titles ----
const title = (x, y, rot) => {
  const t = svg.append('text').attr('font-family', fontFam).attr('font-size', 21)
    .attr('text-anchor', 'middle').attr('fill', '#000');
  if (rot) t.attr('transform', `translate(${x},${y}) rotate(${rot})`);
  else t.attr('x', x).attr('y', y);
  return t;
};
title((X0 + XM) / 2, 19).text('Year');
title((X0 + XM) / 2, 1439).text('Modified Julian Date');
title((XM + X1) / 2, 1444).text('Restframe Wavelength (\u00c5)');
const yl = title(25, 725, -90);
yl.append('tspan').text('Difference Flux (');
yl.append('tspan').attr('font-style', 'italic').text('\u03bc');
yl.append('tspan').text('Jy)');
title(1316, 725, 90).text('Flux (Normalised)');

// ---- legend ----
const lg = svg.append('g').attr('font-family', fontFam).attr('font-size', 17);
lg.append('rect').attr('x', 698).attr('y', 20).attr('width', 546).attr('height', 27).attr('rx', 4)
  .attr('fill', '#fff').attr('fill-opacity', 0.8).attr('stroke', '#cccccc').attr('stroke-width', 1);
const legendItems = [
  { kind: 'dot', col: cyan, x: 720, label: 'ATLAS-', it: 'c', tx: 750 },
  { kind: 'dot', col: orange, x: 873, label: 'ATLAS-', it: 'o', tx: 902 },
  { kind: 'line', col: '#a0a0a0', x: 1008, label: '6dFGS', tx: 1053 },
  { kind: 'line', col: '#0000ff', x: 1140, label: 'WiFeS', tx: 1187 }
];
legendItems.forEach(d => {
  if (d.kind === 'dot') lg.append('circle').attr('cx', d.x).attr('cy', 33).attr('r', 4).attr('fill', d.col);
  else lg.append('line').attr('x1', d.x).attr('x2', d.x + 35).attr('y1', 33).attr('y2', 33)
    .attr('stroke', d.col).attr('stroke-width', 1.4);
  const t = lg.append('text').attr('x', d.tx).attr('y', 39).attr('fill', '#000');
  t.append('tspan').text(d.label);
  if (d.it) t.append('tspan').attr('font-style', 'italic').text(d.it);
});
</script>
</body>
</html>
